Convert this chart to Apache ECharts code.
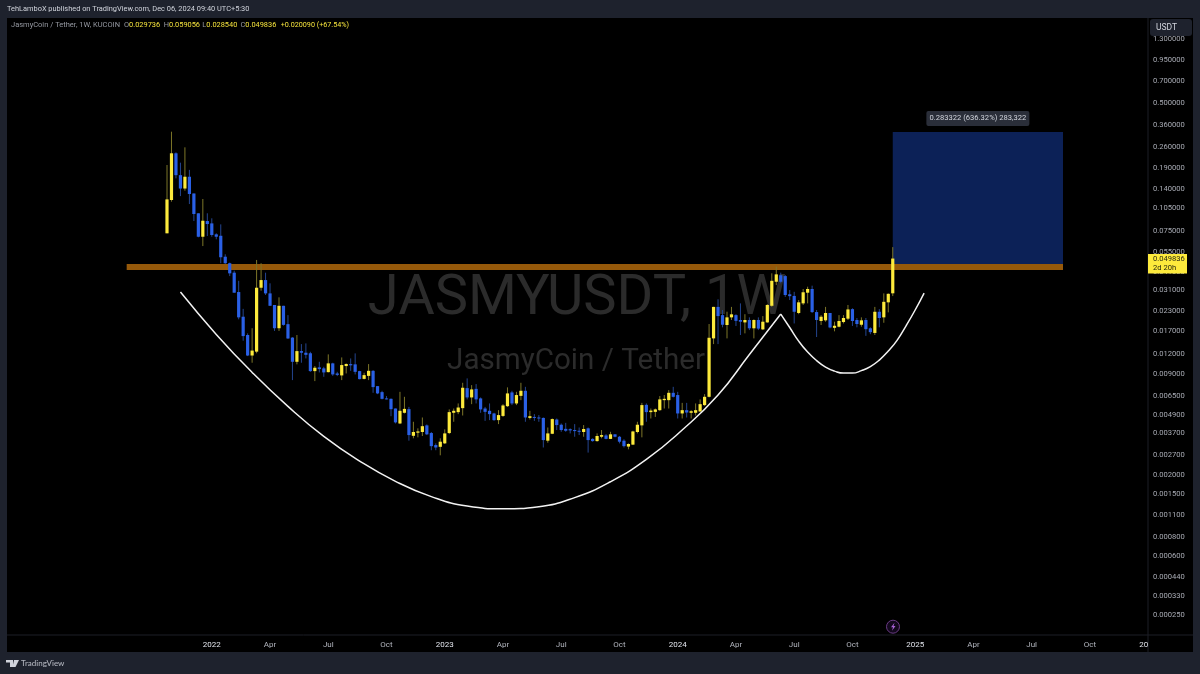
<!DOCTYPE html>
<html>
<head>
<meta charset="UTF-8">
<title>JASMYUSDT 1W</title>
<style>
html, body { margin: 0; padding: 0; background: #1e222d; }
#main { width: 1200px; height: 674px; }
</style>
<script src="https://cdn.jsdelivr.net/npm/echarts@6/dist/echarts.min.js"></script>
</head>
<body>
<div id="main"></div>
<script>
// weekly candles, n = 0 is the week of 2021-10-25
var opens = [
  .0725,.1189,.238,.172,.141,.168,.131,.0976,.0689,.087,
  .084,.0714,.0699,.0512,.0465,.0404,.0303,.021,.016,.0118,
  .0125,.0323,.0362,.0297,.025,.0177,.0247,.0188,.0154,.01075,
  .0126,.0123,.0122,.00936,.0099,.00975,.00922,.0105,.00904,.00878,
  .01009,.01039,.01035,.00936,.00834,.00872,.0094,.00749,.00685,.00624,
  .0062,.00537,.0043,.00504,.00532,.00358,.00375,.00379,.00418,.00373,
  .00312,.00304,.0032,.00373,.00504,.00509,.0054,.00727,.00633,.00719,
  .00624,.00537,.00519,.00499,.00452,.00481,.00556,.00682,.00579,.00648,
  .00699,.00467,.00474,.0047,.00467,.00333,.00369,.00456,.00422,.00397,
  .00395,.0039,.00386,.00379,.004,.00342,.00331,.00353,.0036,.00342,
  .00366,.00353,.00333,.00305,.00314,.00379,.00418,.00567,.00509,.00511,
  .00524,.00608,.00608,.00678,.00656,.00499,.00524,.00504,.00504,.00514,
  .00565,.00639,.01522,.0243,.0215,.01857,.0208,.0215,.02,.0193,
  .02,.01768,.02,.0174,.0193,.0247,.0353,.0389,.0384,.0293,
  .0286,.0222,.0256,.03,.0317,.0225,.0197,.0199,.0222,.0178,
  .0181,.0194,.0204,.0235,.02,.01864,.02,.01768,.0165,.0226,
  .0208,.026,.029736
];
var highs = [
  .2,.328,.2415,.207,.26,.186,.131,.0976,.1207,.0976,
  .0906,.0725,.0828,.0531,.0469,.0416,.0358,.0236,.0164,.0177,
  .0488,.0465,.0404,.0345,.025,.028,.0247,.0215,.0155,.016,
  .01398,.01413,.01247,.01009,.01075,.00998,.012,.0106,.00926,.01147,
  .0105,.0113,.01218,.0094,.00913,.01039,.0095,.00749,.00699,.00646,
  .00624,.00537,.00688,.00639,.0055,.00441,.004,.0047,.00424,.00379,
  .0032,.00345,.00394,.0053,.00537,.00579,.00787,.0084,.0076,.00772,
  .00633,.0055,.00579,.00504,.00524,.00573,.00735,.00699,.00688,.00787,
  .00741,.00519,.00494,.00487,.0047,.00405,.00463,.00463,.0043,.00434,
  .004,.00426,.00405,.0042,.00405,.00345,.00371,.0039,.00367,.0038,
  .00366,.00357,.0034,.0032,.00386,.00441,.00584,.00579,.00537,.00537,
  .00646,.00656,.00706,.00741,.00688,.00584,.00584,.00524,.00579,.00615,
  .00665,.01884,.02434,.0272,.0232,.02262,.0243,.0218,.0256,.0218,
  .0208,.0202,.0208,.0212,.02534,.04,.0442,.0404,.039,.0312,
  .0304,.0269,.0317,.0328,.0333,.0232,.0215,.0243,.0222,.0195,
  .0215,.0215,.025,.0238,.0206,.0208,.0206,.01794,.0243,.0235,
  .0297,.0297,.059056
];
var lows = [
  .0725,.116,.164,.126,.1365,.112,.087,.0683,.06,.0696,
  .0689,.0663,.0465,.046,.0384,.03,.0202,.0147,.0117,.0106,
  .0122,.0309,.029,.0247,.017,.017,.0184,.0151,.00819,.01035,
  .0106,.0113,.00926,.00807,.00918,.0086,.00918,.00872,.00869,.00819,
  .00904,.0094,.00891,.00828,.00828,.00819,.00678,.00665,.00615,.00615,
  .00479,.0043,.00426,.00499,.00333,.00345,.0035,.00357,.00362,.00289,
  .00289,.00268,.00317,.00367,.00441,.00494,.00484,.00615,.00573,.00579,
  .00504,.00447,.00452,.00447,.00426,.00474,.0055,.00565,.00565,.00608,
  .00441,.00456,.00447,.00441,.00301,.00323,.00367,.0039,.0038,.0038,
  .00371,.00353,.00362,.00353,.00279,.00328,.00328,.00345,.0034,.00341,
  .0035,.0032,.00301,.00293,.00312,.00371,.0035,.00441,.00463,.00474,
  .00519,.00537,.00537,.00633,.00463,.00463,.0047,.00463,.00484,.00511,
  .00558,.00633,.01398,.01398,.01794,.01522,.02,.0183,.016,.0164,
  .01722,.01522,.01722,.01722,.0192,.0243,.0336,.0345,.0282,.0269,
  .019,.0218,.025,.0256,.0222,.01553,.01857,.0195,.01768,.0169,
  .01794,.019,.02,.0183,.01794,.0181,.0158,.0162,.016,.01794,
  .0192,.0224,.02854
];
var closes = [
  .12,.238,.172,.141,.168,.13,.0966,.0689,.0874,.0832,
  .0707,.0689,.0508,.0465,.04,.03,.0208,.01575,.0118,.0127,
  .0323,.0362,.0297,.0247,.0177,.0247,.0186,.0152,.01075,.0126,
  .0123,.01192,.00936,.00984,.00965,.00918,.0105,.00891,.00885,.01024,
  .0104,.0102,.00926,.00831,.00882,.0094,.00738,.00672,.0062,.00615,
  .00532,.00437,.00519,.00534,.00362,.00379,.00382,.00413,.00366,.00307,
  .00301,.00328,.00371,.00509,.00519,.00545,.00731,.00633,.00713,.00615,
  .0053,.00511,.00494,.00452,.00487,.00562,.00672,.00579,.00656,.00699,
  .0047,.00479,.00467,.00463,.00336,.00371,.00459,.0042,.0039,.00386,
  .00388,.00384,.0038,.00396,.00336,.00331,.00357,.00362,.00342,.00366,
  .00353,.00328,.00307,.00317,.00382,.00422,.00565,.00509,.00521,.0053,
  .00615,.0062,.00678,.00639,.00499,.00524,.00506,.00516,.00524,.00573,
  .00639,.01536,.0243,.0212,.01864,.0208,.02176,.01975,.0195,.02,
  .01768,.02,.0176,.0195,.025,.0358,.0394,.0353,.029,.0285,
  .0226,.026,.0302,.0317,.0225,.02,.021,.0222,.0179,.01836,
  .0197,.0206,.0234,.0197,.01884,.0199,.01745,.0167,.0226,.0206,
  .0262,.0295,.049836
];

// price scale labels
var priceTicks = [1.3,.95,.7,.5,.36,.26,.19,.14,.105,.075,.055,.041,.031,.023,.017,.012,.009,.0065,.0049,.0037,.0027,.002,.0015,.0011,.0008,.0006,.00044,.00033,.00025];
var priceMin = 0.0001857, priceMax = 1.7497;

// time scale labels: week number (same n as the candles) and text
var timeTickWeeks = [10,23,36,49,62,75,88,101,114,127,140,153,167,180,193,206,218];
var timeTickLabels = ['2022','Apr','Jul','Oct','2023','Apr','Jul','Oct','2024','Apr','Jul','Oct','2025','Apr','Jul','Oct','20'];
var yearLabels = ['2022','2023','2024','2025','20'];

// drawings on the chart, x as week number
var levelWeeks = [-9, 200], levelTop = .046, levelBottom = .042;
var targetWeeks = [162, 200], targetTop = .327, targetBottom = .0437;
var targetLabel = '0.283322 (636.32%) 283,322';

var cupWeeks = [3,11,19,27,35,43,51,59,67,75,83,91,99,107,115,123,130,137];
var cupPrices = [.0303,.01615,.00918,.00554,.00355,.00246,.00182,.00145,.00126,.00121,.00125,.00143,.00181,.00252,.0039,.00656,.01198,.02185];
var handleWeeks = [137,139,141,143,145,147,149,151,153,155,157,159,161,163,165,167,169];
var handlePrices = [.02185,.0179,.01462,.01242,.01095,.00994,.00936,.00909,.00909,.00943,.01001,.01103,.0126,.01484,.0184,.0232,.02984];

var padSlots = 35;   // empty weeks left of the first candle
var slotCount = 254;
var bandPx = 4.48;
var gridLeft = 167 - (padSlots + 0.5) * bandPx;

var categories = [];
var startDay = new Date(Date.UTC(2021, 9, 25));
for (var k = 0; k < slotCount; k++) {
  categories.push(new Date(startDay.getTime() + (k - padSlots) * 7 * 86400000).toISOString().slice(0, 10));
}

var candleRows = opens.map(function (o, i) {
  return [i + padSlots, o, closes[i], lows[i], highs[i]];
});

function renderCandle(params, api) {
  var slot = api.value(0);
  var o = api.coord([slot, api.value(1)]);
  var c = api.coord([slot, api.value(2)]);
  var l = api.coord([slot, api.value(3)]);
  var h = api.coord([slot, api.value(4)]);
  var up = api.value(2) >= api.value(1);
  var top = Math.min(o[1], c[1]);
  var bodyH = Math.max(Math.abs(o[1] - c[1]), 1);
  return {
    type: 'group',
    children: [
      { type: 'line', shape: { x1: o[0], y1: h[1], x2: o[0], y2: l[1] },
        style: { stroke: up ? '#7d7628' : '#24458f', lineWidth: 1 } },
      { type: 'rect', shape: { x: o[0] - 1.6, y: top, width: 3.2, height: bodyH },
        style: { fill: up ? '#fdea3c' : '#2a60e6' } }
    ]
  };
}

// plain price box drawn from two corners
function renderBox(fill) {
  return function (params, api) {
    var a = api.coord([api.value(0), api.value(2)]);
    var b = api.coord([api.value(1), api.value(3)]);
    return { type: 'rect', shape: { x: a[0], y: a[1], width: b[0] - a[0], height: b[1] - a[1] }, style: { fill: fill } };
  };
}

function renderTarget(params, api) {
  var a = api.coord([api.value(0), api.value(2)]);
  var b = api.coord([api.value(1), api.value(3)]);
  var mid = (a[0] + b[0]) / 2;
  return {
    type: 'group',
    children: [
      { type: 'rect', shape: { x: a[0], y: a[1], width: b[0] - a[0], height: b[1] - a[1] }, style: { fill: '#0c2157' } },
      { type: 'rect', shape: { x: mid - 51.5, y: a[1] - 21, width: 103, height: 15, r: 2 }, style: { fill: '#2a2e39' } },
      { type: 'text', style: { x: mid, y: a[1] - 13.5, text: targetLabel, fill: '#d1d4dc', align: 'center', verticalAlign: 'middle', font: '7.6px Roboto' } }
    ]
  };
}

function linePoints(weeks, prices) {
  return weeks.map(function (w, i) { return [w + padSlots, prices[i]]; });
}

// one "O0.029736" style item of the legend line
function ohlcText(x, key, value) {
  return { type: 'text', z: 100, silent: true, style: {
    x: x, y: 25.5, verticalAlign: 'middle', text: '{g|' + key + '}{y|' + value + '}',
    rich: { g: { fill: '#9598a1', font: '7.4px Roboto' }, y: { fill: '#f5e33c', font: '7.4px Roboto' } }
  } };
}

var chart = echarts.init(document.getElementById('main'));
var option = {
  animation: false,
  backgroundColor: '#1e222d',
  textStyle: { fontFamily: 'Roboto' },
  grid: { left: gridLeft, top: 19, width: slotCount * bandPx, height: 616 },
  xAxis: {
    type: 'category',
    data: categories,
    axisLine: { show: false },
    axisTick: { show: false },
    splitLine: { show: false },
    axisLabel: {
      margin: 6,
      fontSize: 8,
      color: '#b2b5be',
      interval: function (index) { return timeTickWeeks.indexOf(index - padSlots) >= 0; },
      formatter: function (value, index) {
        var t = timeTickLabels[timeTickWeeks.indexOf(index - padSlots)];
        return yearLabels.indexOf(t) >= 0 ? '{yr|' + t + '}' : t;
      },
      rich: { yr: { color: '#e0e3eb', fontSize: 8 } }
    }
  },
  yAxis: {
    type: 'log',
    logBase: 10,
    position: 'right',
    min: priceMin,
    max: priceMax,
    axisLine: { show: false },
    axisTick: { show: false },
    splitLine: { show: false },
    axisLabel: {
      margin: 7,
      fontSize: 7.6,
      color: '#a8abb4',
      customValues: priceTicks,
      formatter: function (v) { return Number(v).toFixed(6); }
    }
  },
  series: [
    { type: 'custom', name: 'target', z: 2, renderItem: renderTarget, silent: true, clip: false,
      data: [[targetWeeks[0] + padSlots, targetWeeks[1] + padSlots, targetTop, targetBottom]],
      encode: { x: [0, 1], y: [2, 3] } },
    { type: 'custom', name: 'level', z: 3, renderItem: renderBox('#96590a'), silent: true,
      data: [[levelWeeks[0] + padSlots, levelWeeks[1] + padSlots, levelTop, levelBottom]],
      encode: { x: [0, 1], y: [2, 3] } },
    { type: 'custom', name: 'JASMYUSDT', z: 4, renderItem: renderCandle, silent: true,
      data: candleRows, encode: { x: 0, y: [1, 2, 3, 4] } },
    { type: 'line', name: 'cup', z: 5, data: linePoints(cupWeeks, cupPrices), smooth: 0.5, showSymbol: false, silent: true,
      lineStyle: { color: '#f2f2f2', width: 1.5 } },
    { type: 'line', name: 'handle', z: 5, data: linePoints(handleWeeks, handlePrices), smooth: 0.5, showSymbol: false, silent: true,
      lineStyle: { color: '#f2f2f2', width: 1.5 } }
  ],
  graphic: [
    // frame and panes
    { type: 'rect', z: -10, silent: true, shape: { x: 7, y: 18, width: 1186, height: 634 }, style: { fill: '#000000' } },
    { type: 'line', z: -9, silent: true, shape: { x1: 1148, y1: 18, x2: 1148, y2: 652 }, style: { stroke: '#1c1f27', lineWidth: 1 } },
    { type: 'line', z: -9, silent: true, shape: { x1: 7, y1: 635, x2: 1193, y2: 635 }, style: { stroke: '#1c1f27', lineWidth: 1 } },
    // watermark
    { type: 'text', z: -8, silent: true, style: { x: 577, y: 300, text: 'JASMYUSDT, 1W', fill: '#2b2b2b', align: 'center', verticalAlign: 'middle', font: '56px Roboto' } },
    { type: 'text', z: -8, silent: true, style: { x: 576, y: 362, text: 'JasmyCoin / Tether', fill: '#2b2b2b', align: 'center', verticalAlign: 'middle', font: '29.6px Roboto' } },
    // header
    { type: 'text', z: 100, silent: true, style: { x: 7, y: 9, text: 'TehLamboX published on TradingView.com, Dec 06, 2024 09:40 UTC+5:30', fill: '#d1d4dc', verticalAlign: 'middle', font: '7.4px Roboto' } },
    { type: 'text', z: 100, silent: true, style: { x: 11, y: 25.5, text: 'JasmyCoin / Tether, 1W, KUCOIN', fill: '#9598a1', verticalAlign: 'middle', font: '7.5px Roboto' } },
    ohlcText(124, 'O', '0.029736'),
    ohlcText(163.7, 'H', '0.059056'),
    ohlcText(202.3, 'L', '0.028540'),
    ohlcText(240.5, 'C', '0.049836'),
    { type: 'text', z: 100, silent: true, style: { x: 280.7, y: 25.5, text: '+0.020090 (+67.54%)', fill: '#f5e33c', verticalAlign: 'middle', font: '7.2px Roboto' } },
    // currency button
    { type: 'rect', z: 100, silent: true, shape: { x: 1150, y: 19, width: 42, height: 17, r: 3 }, style: { fill: '#1e222d' } },
    { type: 'text', z: 101, silent: true, style: { x: 1156, y: 27.5, text: 'USDT', fill: '#d1d4dc', verticalAlign: 'middle', font: '8.5px Roboto' } },
    // last price tag
    { type: 'rect', z: 100, silent: true, shape: { x: 1148, y: 254, width: 39, height: 19.5 }, style: { fill: '#fdea3c' } },
    { type: 'text', z: 101, silent: true, style: { x: 1153, y: 259, text: '0.049836', fill: '#2a2a10', verticalAlign: 'middle', font: '7.6px Roboto' } },
    { type: 'text', z: 101, silent: true, style: { x: 1153, y: 268, text: '2d 20h', fill: '#2a2a10', verticalAlign: 'middle', font: '7.6px Roboto' } },
    // alert icon
    { type: 'circle', z: 100, silent: true, shape: { cx: 893, cy: 626.7, r: 6.5 }, style: { fill: '#12081c', stroke: '#6a3a85', lineWidth: 1 } },
    { type: 'polygon', z: 101, silent: true, shape: { points: [[894.5, 622.7], [891, 627.2], [893, 627.2], [892, 630.7], [895.5, 625.9], [893.5, 625.9]] }, style: { fill: '#a862d6' } },
    // footer logo
    { type: 'polygon', z: 100, silent: true, shape: { points: [[6, 660], [13, 660], [13, 667], [10, 667], [10, 662.5], [6, 662.5]] }, style: { fill: '#d1d4dc' } },
    { type: 'polygon', z: 100, silent: true, shape: { points: [[14, 660], [19, 660], [15.5, 667], [12.5, 667]] }, style: { fill: '#d1d4dc' } },
    { type: 'text', z: 100, silent: true, style: { x: 21, y: 663.5, text: 'TradingView', fill: '#b2b5be', verticalAlign: 'middle', font: '500 8px Lato' } }
  ]
};
chart.setOption(option);
</script>
</body>
</html>
